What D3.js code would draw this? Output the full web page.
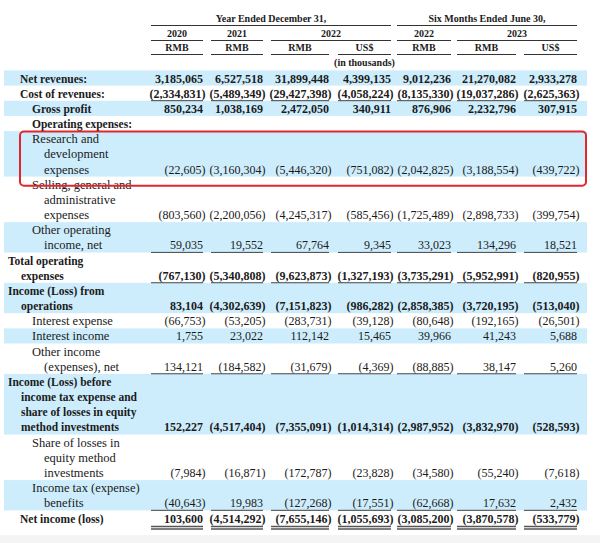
<!DOCTYPE html>
<html>
<head>
<meta charset="utf-8">
<script src="https://cdn.jsdelivr.net/npm/d3@7"></script>
<style>
  html, body { margin: 0; padding: 0; background: #ffffff; }
  svg { display: block; }
</style>
</head>
<body>
<svg id="chart" width="600" height="543"></svg>
<script>
// ---------------- DATA ----------------
const columnKeys = ["y2020", "y2021", "y2022rmb", "y2022usd", "h2022rmb", "h2023rmb", "h2023usd"];
const groupHeaders = ["Year Ended December 31,", "Six Months Ended June 30,"];
const yearHeaders = ["2020", "2021", "2022", "2022", "2023"];
const currencyHeaders = ["RMB", "RMB", "RMB", "US$", "RMB", "RMB", "US$"];
const unitNote = "(in thousands)";

// Row labels (each entry = lines of the label)
const rowLabels = [
  ["Net revenues:"],
  ["Cost of revenues:"],
  ["Gross profit"],
  ["Operating expenses:"],
  ["Research and", "development", "expenses"],
  ["Selling, general and", "administrative", "expenses"],
  ["Other operating", "income, net"],
  ["Total operating", "expenses"],
  ["Income (Loss) from", "operations"],
  ["Interest expense"],
  ["Interest income"],
  ["Other income", "(expenses), net"],
  ["Income (Loss) before", "income tax expense and", "share of losses in equity", "method investments"],
  ["Share of losses in", "equity method", "investments"],
  ["Income tax (expense)", "benefits"],
  ["Net income (loss)"]
];
const rowBold = [true, true, true, true, false, false, false, true, true, false, false, false, true, false, false, true];

// Values per column (null = blank)
const y2020 = [3185065, -2334831, 850234, null, -22605, -803560, 59035, -767130, 83104, -66753, 1755, 134121, 152227, -7984, -40643, 103600];
const y2021 = [6527518, -5489349, 1038169, null, -3160304, -2200056, 19552, -5340808, -4302639, -53205, 23022, -184582, -4517404, -16871, 19983, -4514292];
const y2022rmb = [31899448, -29427398, 2472050, null, -5446320, -4245317, 67764, -9623873, -7151823, -283731, 112142, -31679, -7355091, -172787, -127268, -7655146];
const y2022usd = [4399135, -4058224, 340911, null, -751082, -585456, 9345, -1327193, -986282, -39128, 15465, -4369, -1014314, -23828, -17551, -1055693];
const h2022rmb = [9012236, -8135330, 876906, null, -2042825, -1725489, 33023, -3735291, -2858385, -80648, 39966, -88885, -2987952, -34580, -62668, -3085200];
const h2023rmb = [21270082, -19037286, 2232796, null, -3188554, -2898733, 134296, -5952991, -3720195, -192165, 41243, 38147, -3832970, -55240, 17632, -3870578];
const h2023usd = [2933278, -2625363, 307915, null, -439722, -399754, 18521, -820955, -513040, -26501, 5688, 5260, -528593, -7618, 2432, -533779];
const columnValues = { y2020, y2021, y2022rmb, y2022usd, h2022rmb, h2023rmb, h2023usd };

// ---------------- LAYOUT ----------------
const svg = d3.select("#chart");
const FONT = "'Liberation Serif', 'Times New Roman', serif";
const TEXT = "#1b1b1b";

// column geometry via scales
const colLeft = d3.scaleOrdinal().domain(columnKeys).range([151, 211, 271, 338, 397, 457, 524]);
const colRight = d3.scaleOrdinal().domain(columnKeys).range([203, 263, 329, 391, 451, 516, 577]);

// vertical line positions: each label line occupies one line slot
let lineStarts = [], acc = 0;
rowLabels.forEach(l => { lineStarts.push(acc); acc += l.length; });
const totalLines = acc; // 30
const yLine = d3.scaleLinear().domain([0, totalLines - 1]).range([78, 518]);
const half = (yLine(1) - yLine(0)) / 2;

// background strips
svg.append("rect").attr("x", 0).attr("y", 0).attr("width", 600).attr("height", 543).attr("fill", "#ffffff");
svg.append("rect").attr("x", 0).attr("y", 535).attr("width", 600).attr("height", 8).attr("fill", "#f4f4f4");

// shaded bands (alternating rows)
svg.append("g").selectAll("rect")
  .data(rowLabels.map((l, i) => ({ i, start: lineStarts[i], n: l.length })).filter(d => d.i % 2 === 0))
  .join("rect")
  .attr("x", 4).attr("width", 583)
  .attr("y", d => yLine(d.start) - half)
  .attr("height", d => yLine(d.start + d.n - 1) - yLine(d.start) + 2 * half)
  .attr("fill", "#cdedfc");

// ---------------- HEADER ----------------
const hdr = svg.append("g").attr("font-family", FONT).attr("font-weight", "bold")
  .attr("font-size", 10).attr("fill", TEXT).attr("text-anchor", "middle");
const line = (x1, x2, y, w = 1, c = "#333") => svg.append("line")
  .attr("x1", x1).attr("x2", x2).attr("y1", y).attr("y2", y).attr("stroke", c).attr("stroke-width", w);

const groupSpans = [["y2020", "y2022usd"], ["h2022rmb", "h2023usd"]];
groupSpans.forEach((s, i) => {
  const a = colLeft(s[0]), b = colRight(s[1]);
  hdr.append("text").attr("x", (a + b) / 2).attr("y", 22).text(groupHeaders[i]);
  line(a, b, 25.5);
});
const yearSpans = [["y2020", "y2020"], ["y2021", "y2021"], ["y2022rmb", "y2022usd"], ["h2022rmb", "h2022rmb"], ["h2023rmb", "h2023usd"]];
yearSpans.forEach((s, i) => {
  const a = colLeft(s[0]), b = colRight(s[1]);
  hdr.append("text").attr("x", (a + b) / 2).attr("y", 37).text(yearHeaders[i]);
  line(a, b, 40.5);
});
columnKeys.forEach((k, i) => {
  const a = colLeft(k), b = colRight(k);
  hdr.append("text").attr("x", (a + b) / 2).attr("y", 51).text(currencyHeaders[i]);
  line(a, b, 54.5);
});
hdr.append("text").attr("x", (colLeft("y2022usd") + colRight("y2022usd")) / 2).attr("y", 66).text(unitNote);

// ---------------- LABELS ----------------
const indentFirst = [20, 20, 32, 32, 32, 32, 32, 8, 8, 32, 32, 32, 8, 32, 32, 20];
const indentCont = [20, 20, 32, 32, 44, 44, 44, 21, 21, 44, 44, 44, 21, 44, 44, 20];
const lab = svg.append("g").attr("font-family", FONT).attr("font-size", 12.5).attr("fill", TEXT);
rowLabels.forEach((lines, i) => {
  lines.forEach((t, j) => {
    const el = lab.append("text")
      .attr("x", j === 0 ? indentFirst[i] : indentCont[i])
      .attr("y", yLine(lineStarts[i] + j) + 4.5)
      .attr("font-weight", rowBold[i] ? "bold" : "normal")
      .text(t);
    if (rowBold[i]) {
      const w = el.node().getComputedTextLength();
      el.attr("textLength", w * 0.92).attr("lengthAdjust", "spacingAndGlyphs");
    }
  });
});

// ---------------- VALUES ----------------
const fmt = d3.format(",");
const num = svg.append("g").attr("font-family", FONT).attr("font-size", 12).attr("fill", TEXT).attr("text-anchor", "end");
columnKeys.forEach(k => {
  columnValues[k].forEach((v, i) => {
    if (v === null) return;
    const yy = yLine(lineStarts[i] + rowLabels[i].length - 1) + 4.5;
    num.append("text")
      .attr("x", v < 0 ? colRight(k) + 2.5 : colRight(k))
      .attr("y", yy)
      .attr("font-weight", rowBold[i] ? "bold" : "normal")
      .text(v < 0 ? "(" + fmt(-v) + ")" : fmt(v));
  });
});

// ---------------- UNDERLINES ----------------
const underRows = [1, 6, 7, 11, 14];
underRows.forEach(i => {
  const yy = yLine(lineStarts[i] + rowLabels[i].length - 1) + 7.5;
  columnKeys.forEach(k => line(colLeft(k), colRight(k), yy, 1, "#444"));
});
const lastRow = rowLabels.length - 1;
const yNet = yLine(lineStarts[lastRow]);
columnKeys.forEach(k => {
  line(colLeft(k), colRight(k), yNet + 8.5, 1.3, "#555");
  line(colLeft(k), colRight(k), yNet + 11, 1.3, "#555");
});

// ---------------- HIGHLIGHT BOX ----------------
svg.append("rect")
  .attr("x", 20).attr("y", yLine(lineStarts[4]) - half + 0.5)
  .attr("width", 566)
  .attr("height", yLine(lineStarts[5]) + 1 - (yLine(lineStarts[4]) - half))
  .attr("rx", 4)
  .attr("fill", "none").attr("stroke", "#e3262c").attr("stroke-width", 2);
</script>
</body>
</html>
